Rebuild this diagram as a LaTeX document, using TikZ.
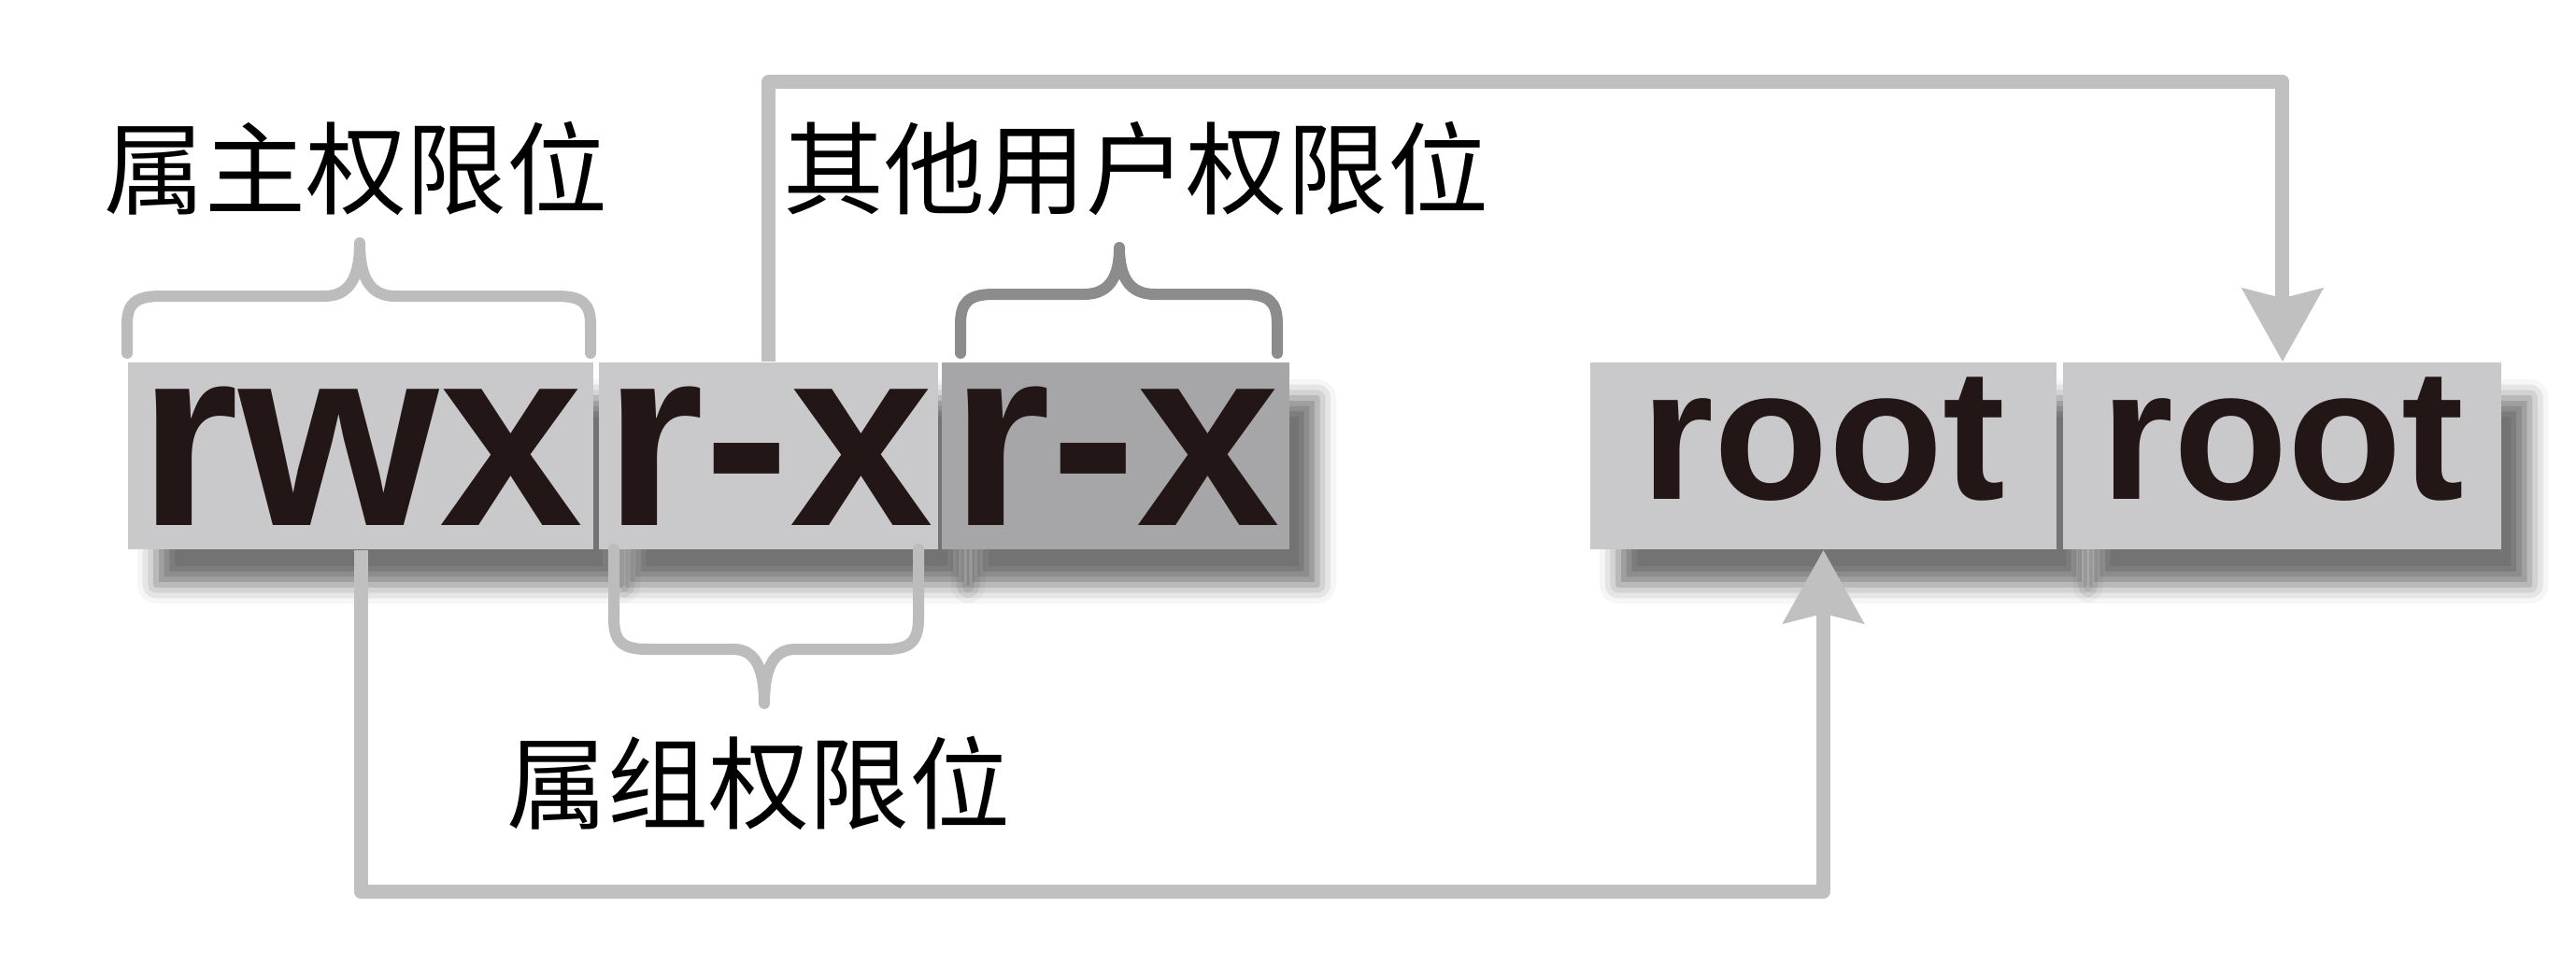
\documentclass[tikz,border=0pt]{standalone}
\usepackage{fontspec}
\setmainfont{Liberation Sans}
\newfontfamily\cjk{Noto Sans CJK SC}
\usepackage{xcolor}
\usepackage{tikz}
\usetikzlibrary{positioning, arrows.meta, shadows.blur}
\definecolor{blkgray}{RGB}{201,201,203}
\definecolor{othgray}{RGB}{166,166,168}
\definecolor{lngray}{RGB}{192,192,192}
\definecolor{brcgray}{RGB}{188,188,188}
\definecolor{brcdark}{RGB}{140,140,140}
\definecolor{txtdark}{RGB}{35,22,22}

\begin{document}
\begin{tikzpicture}[line join=round,
  permbox/.style={fill=blkgray, text=txtdark, inner sep=0pt, minimum height=2cm,
    text height=1.74cm, text depth=.26cm,
    font=\fontsize{78.5pt}{80pt}\selectfont\bfseries,
    blur shadow={shadow xshift=.3cm, shadow yshift=-.38cm, shadow blur radius=.2cm, shadow opacity=55}},
  rootbox/.style={permbox, text height=1.46cm, text depth=.54cm,
    font=\fontsize{57pt}{60pt}\selectfont\bfseries},
  cjktxt/.style={inner sep=0pt, text=black, font=\fontsize{30.7pt}{32pt}\selectfont\cjk},
  brc/.style={draw=brcgray, line width=.12cm, line cap=round},
  conn/.style={draw=lngray, line width=.15cm, -{Stealth[length=.78cm, width=.85cm, inset=.1cm]}}]

\useasboundingbox (0,0) rectangle (27.57,10.32);

%% permission blocks -- left to right
\node[permbox, minimum width=4.98cm] (own) at (3.86,5.44) {rwx};
\node[permbox, minimum width=3.63cm, right=.05cm of own] (grp) {r-x};
\node[permbox, fill=othgray, minimum width=3.72cm, right=.02cm of grp] (oth) {r-x};

%% owner and group names
\node[rootbox, minimum width=4.99cm] (usr) at (19.515,5.44) {root};
\node[rootbox, minimum width=4.69cm, right=.06cm of usr] (gro) {root};

%% labels
\node[cjktxt] (owntxt) at (3.81,8.52) {属主权限位};
\node[cjktxt] (othtxt) at (12.16,8.52) {其他用户权限位};
\node[cjktxt] (grptxt) at (8.12,1.94) {属组权限位};

%% brace over owner bits
\draw[brc] (1.36,6.54) -- (1.36,6.85) .. controls (1.36,7.07) and (1.45,7.15) .. (1.72,7.15)
  -- (3.47,7.15) .. controls (3.74,7.15) and (3.85,7.35) .. (3.85,7.72)
  .. controls (3.85,7.35) and (3.96,7.15) .. (4.23,7.15)
  -- (5.96,7.15) .. controls (6.23,7.15) and (6.32,7.07) .. (6.32,6.85) -- (6.32,6.54);

%% brace over other bits
\draw[brc, draw=brcdark] (10.28,6.54) -- (10.28,6.85) .. controls (10.28,7.09) and (10.37,7.17) .. (10.64,7.17)
  -- (11.60,7.17) .. controls (11.87,7.17) and (11.98,7.35) .. (11.98,7.67)
  .. controls (11.98,7.35) and (12.09,7.17) .. (12.36,7.17)
  -- (13.31,7.17) .. controls (13.58,7.17) and (13.67,7.09) .. (13.67,6.85) -- (13.67,6.54);

%% brace under group bits
\draw[brc] (6.57,4.44) -- (6.57,3.70) .. controls (6.57,3.45) and (6.66,3.37) .. (6.93,3.37)
  -- (7.85,3.37) .. controls (8.08,3.37) and (8.18,3.17) .. (8.18,2.79)
  .. controls (8.18,3.17) and (8.28,3.37) .. (8.51,3.37)
  -- (9.47,3.37) .. controls (9.74,3.37) and (9.83,3.45) .. (9.83,3.70) -- (9.83,4.44);

%% connectors
\draw[conn] (grp.north) |- ([yshift=3cm]gro.north) -- (gro.north);
\draw[conn] (own.south) |- ([yshift=-3.66cm]usr.south) -- (usr.south);

\end{tikzpicture}
\end{document}
